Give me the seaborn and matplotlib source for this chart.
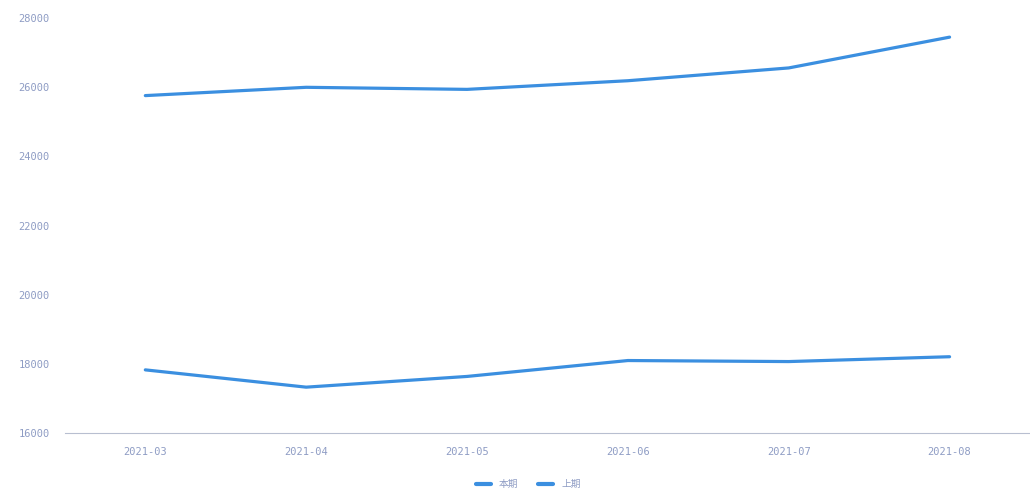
import pandas as pd
import matplotlib.pyplot as plt
import seaborn as sns

months = ['2021-03', '2021-04', '2021-05', '2021-06', '2021-07', '2021-08']
current = [25760, 26000, 25940, 26190, 26560, 27450]
previous = [17830, 17330, 17640, 18100, 18070, 18210]
series_names = ['本期', '上期']
y_ticks = [16000, 18000, 20000, 22000, 24000, 26000, 28000]

sns.set_theme(style='white')
plt.rcParams['font.family'] = ['Noto Sans CJK SC', 'DejaVu Sans']

df = pd.DataFrame({
    'month': months * 2,
    'value': current + previous,
    'series': [series_names[0]] * len(months) + [series_names[1]] * len(months),
})

fig = plt.figure(figsize=(10.3, 4.9), dpi=100)
ax = fig.add_axes([0.063, 0.116, 0.937, 0.847])

line_color = '#3b8fe0'
sns.lineplot(data=df, x='month', y='value', hue='series',
             palette=[line_color, line_color], linewidth=2.3, ax=ax, legend=True)

ax.set_xlim(-0.5, len(months) - 0.5)
ax.set_ylim(16000, 28000)
ax.set_yticks(y_ticks)
ax.set_yticklabels([str(v) for v in y_ticks])
ax.set_xlabel('')
ax.set_ylabel('')

text_color = '#8e9cc4'
ax.tick_params(axis='both', length=0, labelsize=7.5, colors=text_color)
ax.tick_params(axis='y', pad=11)
ax.tick_params(axis='x', pad=10)
for lab in ax.get_xticklabels() + ax.get_yticklabels():
    lab.set_fontfamily(['DejaVu Sans Mono'])

for side in ['top', 'right', 'left']:
    ax.spines[side].set_visible(False)
ax.spines['bottom'].set_color('#b8bfd0')
ax.spines['bottom'].set_linewidth(0.8)

leg = ax.legend(loc='upper center', bbox_to_anchor=(0.48, -0.09), ncol=2,
                frameon=False, fontsize=7, handlelength=1.6, columnspacing=2.0,
                labelcolor=text_color)
for h in leg.get_lines():
    h.set_linewidth(3)

fig.savefig('out.png', dpi=100)
